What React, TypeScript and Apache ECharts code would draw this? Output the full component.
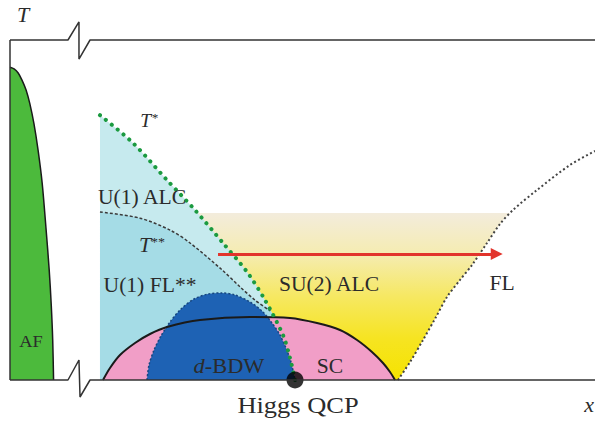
import React, { useEffect, useRef } from "react";
import * as echarts from "echarts";

// Schematic phase diagram: x = doping (0..100 arbitrary units), T = temperature (0..100 arbitrary units)
const afBoundary = [[0, 92], [0.7, 91.5], [1.4, 90.3], [2.05, 88.2], [2.75, 85.3], [3.4, 81.2], [4.1, 75.3], [4.8, 67.6], [5.5, 57.9], [6.15, 44.7], [6.7, 32.4], [7.05, 22.1], [7.3, 11.8], [7.45, 0]];
const tStar = [[15.38, 77.9], [21.03, 69.7], [26.84, 58.8], [31.62, 50], [36.41, 40.3], [40.51, 31.8], [43.59, 23.5], [46.67, 13.2], [47.86, 6.5], [48.72, 0]];
const tStarStar = [[15.38, 49.4], [22.22, 47.6], [27.35, 44.1], [30.77, 40.3], [36.24, 32.4], [39.32, 27.4], [41.88, 23.5], [44.5, 20.3]];
const tStarTail = [[46.67, 13.2], [47.86, 6.5], [48.72, 0]];
const flCrossover = [[66.32, 0], [68.38, 5.29], [70.6, 11.76], [72.82, 18.53], [74.7, 24.41], [76.92, 29.41], [78.97, 33.82], [81.54, 40.29], [83.76, 45.88], [85.98, 50], [90.09, 55.88], [95.73, 63.24], [100, 67.35]];
const scDome = [[15.9, 0], [17.09, 3.53], [18.8, 7.35], [21.37, 10.88], [23.93, 13.53], [26.84, 15.59], [32.48, 17.65], [41.03, 18.53], [47.86, 18.24], [52.48, 16.76], [56.41, 14.71], [59.32, 11.76], [61.88, 8.24], [63.76, 5.0], [64.96, 2.35], [65.81, 0]];
const bdwDome = [[23.42, 0], [23.76, 4.41], [24.62, 8.82], [25.81, 12.94], [27.35, 17.06], [29.23, 20.88], [31.45, 23.82], [33.85, 25.29], [36.24, 25.59], [38.46, 25.0], [41.03, 22.94], [43.08, 20.29], [44.79, 16.76], [46.15, 13.24], [47.18, 9.41], [48.03, 5.29], [48.72, 0]];
const su2Band = [[31, 49.1], [85.6, 49.1]];
const arrowPath = [[35.56, 37.06], [83.2, 37.06]];
const higgsQCP = [[48.72, 0]];
const frameTop = [[0, 100], [9.91, 100], [11.79, 105.3], [11.79, 94.4], [13.68, 100], [100, 100]];
const frameBottom = [[0, 0], [9.91, 0], [11.79, 5.88], [11.97, -5], [13.68, 0], [100, 0]];
const frameLeft = [[0, 0], [0, 100]];

const SERIF = '"Liberation Serif", "Times New Roman", serif';
const INK = "#2b2b2b";

function areaSeries(data: number[][], fill: any, z: number, extra: any = {}) {
  return {
    type: "line",
    data,
    z,
    smooth: 0.3,
    symbol: "none",
    silent: true,
    lineStyle: { width: 0, opacity: 0 },
    areaStyle: { color: fill, opacity: 1 },
    ...extra,
  };
}

function lineSeries(data: number[][], lineStyle: any, z: number, extra: any = {}) {
  return {
    type: "line",
    data,
    z,
    smooth: 0.3,
    symbol: "none",
    silent: true,
    lineStyle,
    ...extra,
  };
}

function label(text: string, x: number, y: number, size: number, opts: any = {}) {
  const { italic, rich, scaleX } = opts;
  return {
    type: "text",
    x,
    y,
    scaleX: scaleX ?? 1.08,
    z: 100,
    silent: true,
    style: {
      text,
      fill: INK,
      fontFamily: SERIF,
      fontSize: size,
      fontStyle: italic ? "italic" : "normal",
      align: "center",
      verticalAlign: "middle",
      textAlign: "center",
      textVerticalAlign: "middle",
      rich,
    },
  };
}

export default function App() {
  const ref = useRef<HTMLDivElement>(null);
  useEffect(() => {
    const chart = echarts.init(ref.current!, null, { renderer: "svg" });
    const yellow = new echarts.graphic.LinearGradient(0, 0, 0, 1, [
      { offset: 0, color: "#f3ecdc" },
      { offset: 0.25, color: "#f5ecb0" },
      { offset: 0.5, color: "#f6e862" },
      { offset: 0.75, color: "#f6e422" },
      { offset: 1, color: "#f5e300" },
    ]);
    const frameStyle = { color: "#333", width: 1.5 };
    chart.setOption({
      animation: false,
      backgroundColor: "#fff",
      grid: { left: 10, right: 0, top: 40, bottom: 41 },
      xAxis: { type: "value", min: 0, max: 100, show: false },
      yAxis: { type: "value", min: 0, max: 100, show: false },
      series: [
        areaSeries(su2Band, yellow, 1, { smooth: false }),
        areaSeries(flCrossover, "#ffffff", 2, {
          lineStyle: { color: "#444", width: 2, type: [2, 2.5] },
        }),
        areaSeries([...tStar], "#c6eaee", 3),
        areaSeries([...tStarStar, ...tStarTail], "#a5dce6", 4),
        areaSeries(scDome, "#f19ec7", 5),
        areaSeries(bdwDome, "#1e62b4", 6, {
          lineStyle: { color: "#17467f", width: 1.5, type: [2, 2] },
        }),
        lineSeries(scDome, { color: "#1a1a1a", width: 2 }, 7),
        lineSeries(tStarStar, { color: "#3a3a3a", width: 1.5, type: [3, 2] }, 8),
        lineSeries(tStar, { color: "#1b9a40", width: 4, type: [0.1, 7.5], cap: "round" }, 9),
        areaSeries(afBoundary, "#4cba3c", 5, {
          lineStyle: { color: "#1a1a1a", width: 1.5 },
        }),
        {
          type: "lines",
          coordinateSystem: "cartesian2d",
          z: 10,
          silent: true,
          symbol: ["none", "triangle"],
          symbolSize: [0, 12],
          lineStyle: { color: "#e2342c", width: 3, opacity: 1 },
          data: [{ coords: arrowPath }],
        },
        {
          type: "scatter",
          data: higgsQCP,
          symbolSize: 17,
          itemStyle: { color: "#000" },
          clip: false,
          z: 11,
          silent: true,
        },
        lineSeries(frameTop, frameStyle, 12, { smooth: false, clip: false }),
        lineSeries(frameBottom, frameStyle, 12, { smooth: false, clip: false }),
        lineSeries(frameLeft, frameStyle, 12, { smooth: false, clip: false }),
      ],
      graphic: [
        label("T", 23, 14, 22, { italic: true, scaleX: 1 }),
        label("x", 589, 404, 22, { italic: true, scaleX: 1 }),
        label("{t|T}{s|*}", 149, 121, 18, {
          rich: {
            t: { fontFamily: SERIF, fontSize: 18, fontStyle: "italic", fill: INK },
            s: { fontFamily: SERIF, fontSize: 12, fontStyle: "italic", fill: INK, verticalAlign: "top" },
          },
        }),
        label("U(1) ALC", 142, 197, 20),
        label("{t|T}{s|**}", 152, 245, 20, {
          rich: {
            t: { fontFamily: SERIF, fontSize: 20, fontStyle: "italic", fill: INK },
            s: { fontFamily: SERIF, fontSize: 13, fill: INK, verticalAlign: "top" },
          },
        }),
        label("U(1) FL**", 150, 285, 20),
        label("SU(2) ALC", 329, 284, 20),
        label("FL", 502, 283, 20),
        label("AF", 31, 341, 17),
        label("{i|d}-BDW", 229, 366, 20, {
          scaleX: 1.12,
          rich: {
            i: { fontFamily: SERIF, fontSize: 20, fontStyle: "italic", fill: INK },
          },
        }),
        label("SC", 330, 366, 20),
        label("Higgs QCP", 298, 405, 23, { scaleX: 1.15 }),
      ],
    });
    return () => chart.dispose();
  }, []);
  return (
    <div
      ref={ref}
      style={{ position: "fixed", left: 0, top: 0, width: 595, height: 421, background: "#fff" }}
    />
  );
}
